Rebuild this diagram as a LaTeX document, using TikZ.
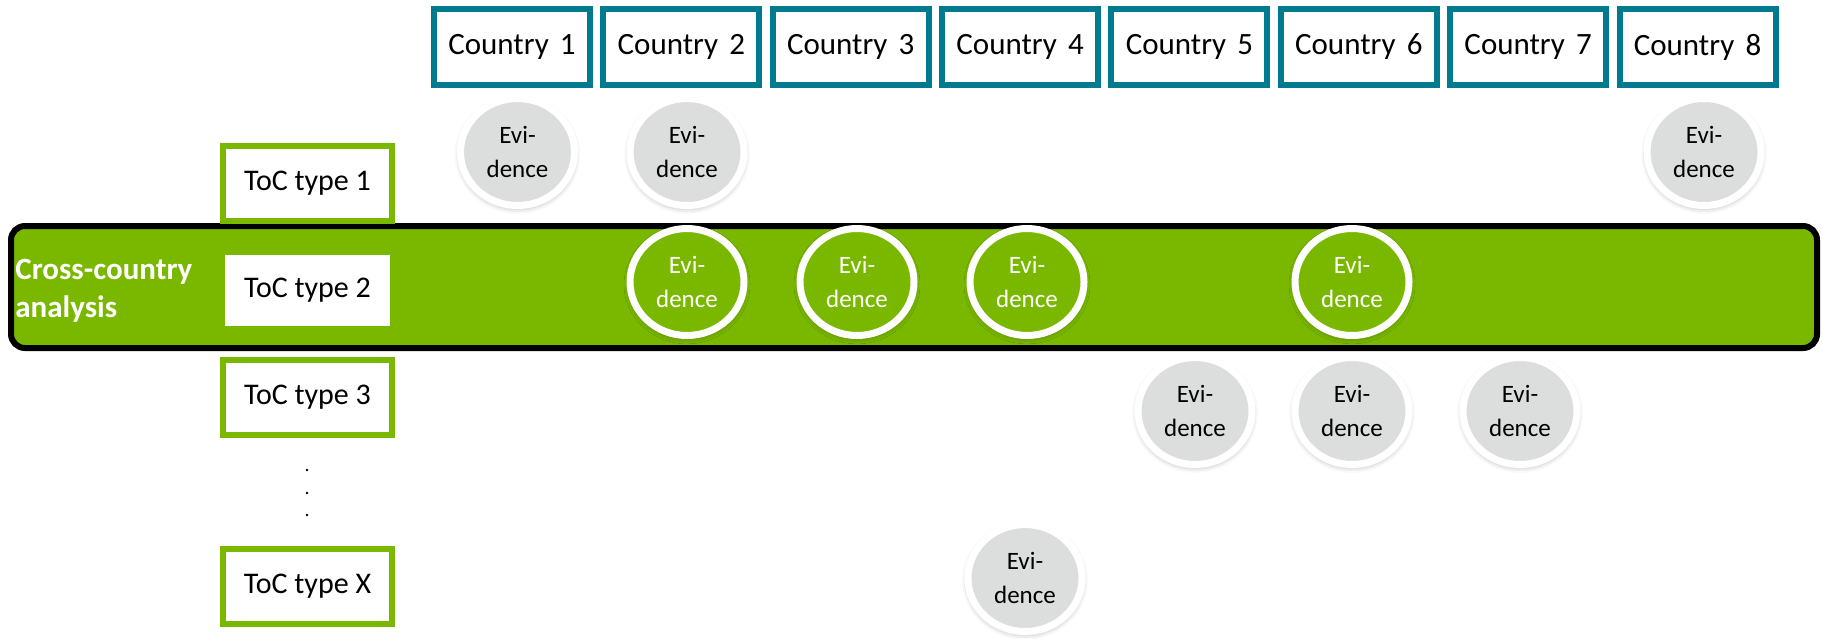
\documentclass[tikz,border=0pt]{standalone}
\usepackage{fontspec}
\setmainfont{Carlito}
\usetikzlibrary{shapes.geometric,shadows.blur}
\definecolor{countryteal}{RGB}{0,122,143}
\definecolor{tocgreen}{RGB}{122,184,0}
\definecolor{evgray}{RGB}{220,221,221}
\begin{document}
\begin{tikzpicture}[x=0.5pt,y=-0.5pt,
  countrybox/.style={draw=countryteal, line width=3pt, fill=white,
    minimum width=78pt, minimum height=38pt, inner sep=0pt,
    font=\fontsize{15.5}{19}\selectfont},
  tocbox/.style={draw=tocgreen, line width=3pt, fill=white,
    minimum width=84.5pt, minimum height=37.5pt, inner sep=0pt,
    font=\fontsize{15}{18}\selectfont},
  evbase/.style={ellipse, draw=white, line width=3.5pt,
    minimum width=57pt, minimum height=53.5pt, inner sep=0pt,
    align=center, font=\fontsize{12.5}{17}\selectfont,
    blur shadow={shadow xshift=0pt, shadow yshift=-1.2pt,
      shadow blur radius=3pt, shadow opacity=35}},
  evgrayc/.style={evbase, fill=evgray, text=black},
  evgreenc/.style={evbase, fill=tocgreen, text=white},
]
\useasboundingbox (0,0) rectangle (1823,638);

% cross-country band
\node[draw=black, line width=3pt, fill=tocgreen, rounded corners=7pt,
  minimum width=903pt, minimum height=61pt, inner sep=0pt] (bar) at (914,287) {};
\node[anchor=base west, inner sep=0pt, text=white, align=left,
  font=\bfseries\fontsize{15.5}{19}\selectfont] (cc) at (15,317) {Cross-country\\analysis};

% country headers
\foreach \i in {1,...,8}
  \node[countrybox] (c\i) at ({512+(\i-1)*169.36},47) {Country\hspace{.36em}\i};

% theory-of-change types
\node[tocbox] (t1) at (307.5,183.5) {ToC type 1};
\node[fill=white, minimum width=82.5pt, minimum height=35.5pt, inner sep=0pt,
  font=\fontsize{15}{18}\selectfont] (t2) at (307.5,290.5) {ToC type 2};
\node[tocbox] (t3) at (307.5,397) {ToC type 3};
\node[tocbox] (tx) at (307.5,586.5) {ToC type X};
\fill (307,470) circle (1.3);
\fill (307,493) circle (1.3);
\fill (307,515) circle (1.3);

% evidence, row of ToC type 1
\node[evgrayc] (e1a) at (517.5,152) {Evi-\\dence};
\node[evgrayc] (e1b) at (687,152) {Evi-\\dence};
\node[evgrayc] (e1h) at (1704,152) {Evi-\\dence};

% evidence, row of ToC type 2 (inside the band)
\node[evgreenc] (e2b) at (687,282) {Evi-\\dence};
\node[evgreenc] (e2c) at (857,282) {Evi-\\dence};
\node[evgreenc] (e2d) at (1027,282) {Evi-\\dence};
\node[evgreenc] (e2f) at (1352,282) {Evi-\\dence};

% evidence, row of ToC type 3
\node[evgrayc] (e3e) at (1195,411) {Evi-\\dence};
\node[evgrayc] (e3f) at (1352,411) {Evi-\\dence};
\node[evgrayc] (e3g) at (1520,411) {Evi-\\dence};

% evidence, row of ToC type X
\node[evgrayc] (exd) at (1025,578) {Evi-\\dence};
\end{tikzpicture}
\end{document}
